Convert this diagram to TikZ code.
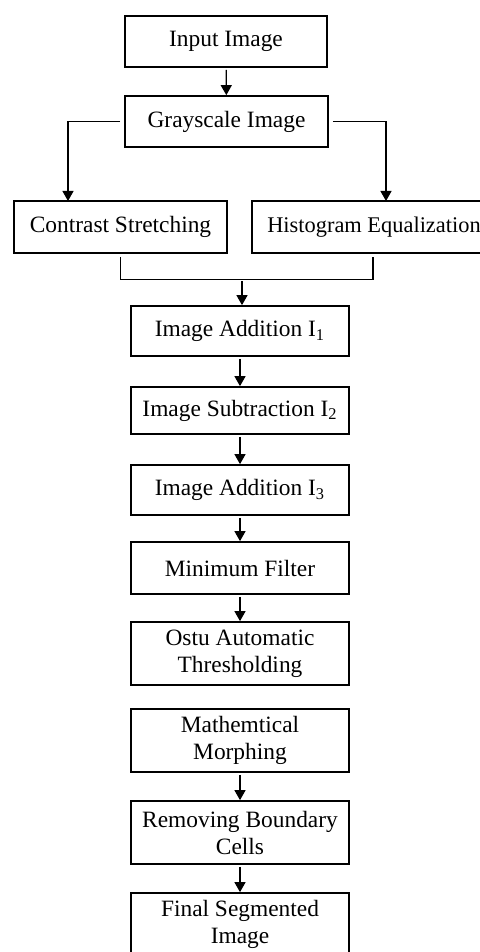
\documentclass[tikz,border=0pt]{standalone}
\usepackage{fontspec}
\setmainfont{Liberation Serif}
\usetikzlibrary{arrows.meta}

\tikzset{
    stage/.style = {draw, line width = 0.85pt, align = center, inner sep = 0pt,
                    font = \fontsize{11.7}{13.5}\selectfont},
    flow/.style  = {line width = 0.6pt, shorten <= 1pt,
                    -{Triangle[length = 5pt, width = 5.5pt]}},
    link/.style  = {line width = 0.6pt}
}

\begin{document}
\begin{tikzpicture}[x = 0.5pt, y = -0.5pt]
        \path [use as bounding box, clip] (0, 0) rectangle (480, 952);

        \node [stage, minimum width = 101pt, minimum height = 25.5pt] (input) at (226, 41.5) {Input Image};
        \node [stage, minimum width = 101.5pt, minimum height = 25.5pt] (gray) at (226.5, 121.5) {Grayscale Image};
        \node [stage, minimum width = 106.5pt, minimum height = 26pt] (stretch) at (120.5, 227) {Contrast Stretching};
        \node [stage, minimum width = 122pt, minimum height = 26pt, font = \fontsize{11.2}{13.5}\selectfont] (histeq) at (374, 227) {Histogram Equalization};
        \node [stage, minimum width = 109pt, minimum height = 25pt] (addone) at (240, 331) {Image Addition I\textsubscript{1}};
        \node [stage, minimum width = 109pt, minimum height = 23.5pt] (subtwo) at (240, 410.5) {Image Subtraction I\textsubscript{2}};
        \node [stage, minimum width = 109pt, minimum height = 25pt] (addthree) at (240, 490) {Image Addition I\textsubscript{3}};
        \node [stage, minimum width = 109pt, minimum height = 26pt] (minfilt) at (240, 568) {Minimum Filter};
        \node [stage, minimum width = 109pt, minimum height = 31.5pt] (otsu) at (240, 653.5) {Ostu Automatic\\Thresholding};
        \node [stage, minimum width = 109pt, minimum height = 31.5pt] (morph) at (240, 740.5) {Mathemtical\\Morphing};
        \node [stage, minimum width = 109pt, minimum height = 31.5pt] (border) at (240, 832.5) {Removing Boundary\\Cells};
        \node [stage, minimum width = 109pt, minimum height = 31.5pt] (final) at (240, 924.5) {Final Segmented\\Image};

        \coordinate (stretchin) at (68, 201);
        \coordinate (histeqin) at (386, 201);
        \coordinate (merge) at (242, 279);

        \draw [flow] (input) -- (gray);
        \draw [flow] ([xshift = -1pt]gray.west) -| (stretchin);
        \draw [flow] ([xshift = 1pt]gray.east) -| (histeqin);
        \draw [link] ([yshift = -1.5pt]stretch.south) -- ++(0, 23) -| ([yshift = -1.5pt]histeq.south -| 373, 0);
        \draw [flow] (merge) -- (merge |- addone.north);
        \draw [flow] (addone) -- (subtwo);
        \draw [flow] (subtwo) -- (addthree);
        \draw [flow] (addthree) -- (minfilt);
        \draw [flow] (minfilt) -- (otsu);
        \draw [flow] (morph) -- (border);
        \draw [flow] (border) -- (final);
    \end{tikzpicture}
\end{document}
